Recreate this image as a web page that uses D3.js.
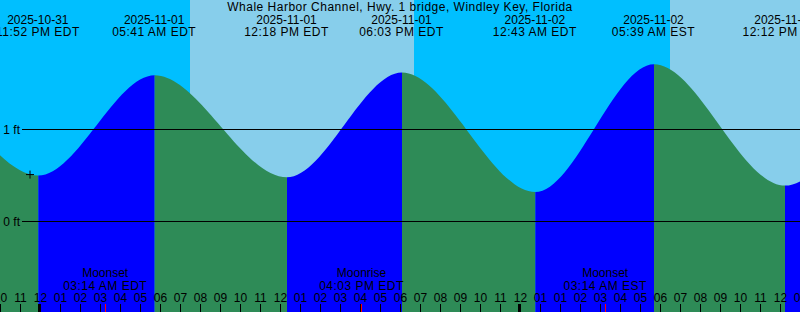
<!DOCTYPE html>
<html>
<head>
<meta charset="utf-8">
<script src="https://cdn.jsdelivr.net/npm/d3@7"></script>
<style>
  body { margin: 0; background: #fff; }
  svg { display: block; font-family: "Liberation Sans", Arial, sans-serif; }
  .wide { letter-spacing: 0.5px; }
</style>
</head>
<body>
<script>
let width = 800, height = 312;

const title = "Whale Harbor Channel, Hwy. 1 bridge, Windley Key, Florida";

// high / low tide times and heights (ft); the first two and the last are off the picture
const tideTimes = [
  "2025-10-31T11:20:00-04:00", "2025-10-31T17:45:00-04:00", "2025-10-31T23:52:00-04:00",
  "2025-11-01T05:41:00-04:00", "2025-11-01T12:18:00-04:00", "2025-11-01T18:03:00-04:00",
  "2025-11-02T00:43:00-04:00", "2025-11-02T05:39:00-05:00", "2025-11-02T12:12:00-05:00",
  "2025-11-02T18:20:00-05:00", "2025-11-03T00:50:00-05:00"
];
const tideHeights = [0.40, 1.45, 0.50, 1.59, 0.48, 1.62, 0.32, 1.71, 0.39, 1.50, 0.30];

const sunrises = ["2025-11-01T07:27:00-04:00", "2025-11-02T06:27:00-05:00"];
const sunsets  = ["2025-11-01T18:39:00-04:00", "2025-11-02T17:38:00-05:00"];

const moonTimes = ["2025-11-01T03:14:00-04:00", "2025-11-01T16:03:00-04:00", "2025-11-02T03:14:00-05:00"];
const moonNames = ["Moonset", "Moonrise", "Moonset"];

const datumLevels = [0, 1];

const markTime = "2025-10-31T23:27:00-04:00", markHeight = 0.51;   // the "+" mark

// EDT ends 2025-11-02 06:00 UTC
const dstEnd = new Date("2025-11-02T06:00:00Z");
const zone = (t) => t < dstEnd ? { off: -4, name: "EDT" } : { off: -5, name: "EST" };
const shift = (t) => new Date(t.getTime() + zone(t).off * 3600e3);
const fmtDate = d3.utcFormat("%Y-%m-%d"), fmtClock = d3.utcFormat("%I:%M %p"), fmtHour = d3.utcFormat("%I");

const tides = tideTimes.map((s, i) => ({ t: new Date(s), h: tideHeights[i] }));

// 20 px per hour, local midnight of Nov 1 sits at x = 41
let x = d3.scaleUtc()
  .domain([new Date("2025-11-01T00:00:00-04:00"), new Date("2025-11-02T00:00:00-04:00")])
  .range([41, 521]);
let y = d3.scaleLinear().domain([0, 1]).range([221.5, 129.5]);

const svg = d3.select("body").append("svg")
  .attr("width", width).attr("height", height);

// sky: night everywhere, day bands on top
svg.append("rect").attr("width", width).attr("height", height).attr("fill", "#00BFFF");
svg.selectAll(".day").data(sunrises).enter().append("rect")
  .attr("class", "day")
  .attr("x", (d) => x(new Date(d)))
  .attr("width", (d, i) => x(new Date(sunsets[i])) - x(new Date(d)))
  .attr("y", 0).attr("height", height)
  .attr("fill", "#87CEEB");

// water, coloured by rising (blue) or falling (green)
const area = d3.area()
  .x((d) => x(d.t)).y0(height).y1((d) => y(d.h))
  .curve(d3.curveMonotoneX);

const defs = svg.append("defs");
tides.slice(0, -1).forEach((d, i) => {
  const next = tides[i + 1];
  defs.append("clipPath").attr("id", "seg" + i)
    .append("rect")
    .attr("x", x(d.t)).attr("width", x(next.t) - x(d.t))
    .attr("y", 0).attr("height", height);
  svg.append("path")
    .datum(tides)
    .attr("d", area)
    .attr("clip-path", `url(#seg${i})`)
    .attr("fill", next.h > d.h ? "#0000FF" : "#2E8B57");
});

// datum lines
svg.selectAll(".datum").data(datumLevels).enter().append("line")
  .attr("x1", 22).attr("x2", width)
  .attr("y1", (d) => y(d)).attr("y2", (d) => y(d))
  .attr("stroke", "#000").attr("stroke-width", 1);
svg.selectAll(".datumLabel").data(datumLevels).enter().append("text")
  .attr("x", 20).attr("y", (d) => y(d) + 4)
  .attr("text-anchor", "end").style("font-size", "12px")
  .text((d) => d + " ft");

// "+" mark
const mx = x(new Date(markTime)), my = y(markHeight);
svg.append("path")
  .attr("d", `M${mx - 4},${my}H${mx + 4}M${mx},${my - 4}V${my + 4}`)
  .attr("stroke", "#000").attr("stroke-width", 1).attr("fill", "none");

// title and tide event labels (only the ones that reach the picture)
svg.append("text")
  .attr("class", "wide")
  .attr("x", width / 2).attr("y", 11)
  .attr("text-anchor", "middle").style("font-size", "12px")
  .text(title);

const shown = tides.filter((d) => x(d.t) > -40 && x(d.t) < width + 40);
const evLabels = svg.selectAll(".ev").data(shown).enter().append("g")
  .attr("transform", (d) => `translate(${x(d.t) - 0.5},0)`)
  .style("font-size", "12px").attr("text-anchor", "middle");
evLabels.append("text").attr("y", 24).text((d) => fmtDate(shift(d.t)));
evLabels.append("text").attr("class", "wide").attr("y", 36)
  .text((d) => fmtClock(shift(d.t)) + " " + zone(d.t).name);

// hour ticks along the bottom
const hours = d3.utcHour.range(x.invert(-10), x.invert(width + 10));
svg.selectAll(".hourLabel").data(hours).enter().append("text")
  .attr("x", (d) => x(d) - 0.5).attr("y", 302)
  .attr("text-anchor", "middle").style("font-size", "12px")
  .text((d) => fmtHour(shift(d)));
svg.selectAll(".hourTick").data(hours).enter().append("rect")
  .attr("x", (d) => shift(d).getUTCHours() === 0 ? Math.round(x(d)) - 3 : Math.round(x(d)) - 1)
  .attr("width", (d) => shift(d).getUTCHours() === 0 ? 3 : 1)
  .attr("y", 304).attr("height", 8)
  .attr("fill", "#000");

// moon events
const moons = moonTimes.map((s, i) => ({ t: new Date(s), name: moonNames[i] }));
const moonG = svg.selectAll(".moon").data(moons).enter().append("g")
  .attr("transform", (d) => `translate(${x(d.t) - 0.5},0)`)
  .style("font-size", "12px").attr("text-anchor", "middle");
moonG.append("text").attr("y", 277).text((d) => d.name);
moonG.append("text").attr("class", "wide").attr("y", 289.5)
  .text((d) => fmtClock(shift(d.t)) + " " + zone(d.t).name);
svg.selectAll(".moonTick").data(moons).enter().append("rect")
  .attr("x", (d) => Math.round(x(d.t)) - 1).attr("width", 1)
  .attr("y", 304).attr("height", 8)
  .attr("fill", "#FF0000");
</script>
</body>
</html>
